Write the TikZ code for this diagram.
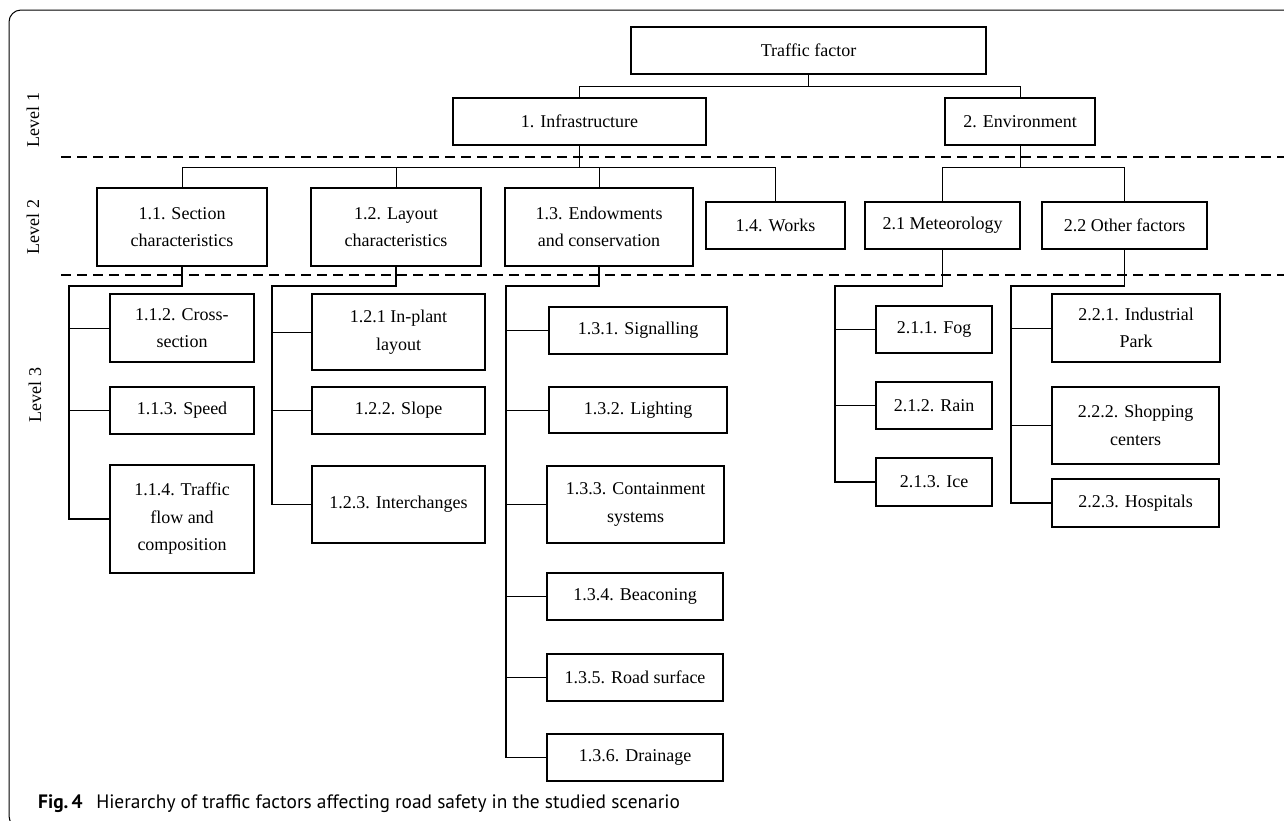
\documentclass[tikz,border=0pt]{standalone}
\usepackage{fontspec}
\setmainfont{Liberation Serif}
\newfontfamily\capfont{PT Sans}
\tikzset{
  box/.style={draw, line width=1.3pt, inner sep=0pt, align=center, font=\fontsize{18}{27.5}\selectfont},
  conn/.style={line width=0.9pt},
  trunk/.style={line width=1.4pt},
  dashline/.style={line width=1.2pt, dash pattern=on 10pt off 6pt},
  lvl/.style={rotate=90, inner sep=0pt, font=\fontsize{18}{22}\selectfont},
  frame/.style={line width=1pt, rounded corners=12pt}
}
\newcommand\bx[6]{\node[box, minimum width={(#4-#2)*1pt}, minimum height={(#5-#3)*1pt}] (#1) at ({(#2+#4)/2},{(#3+#5)/2}) {#6};}
\begin{document}
\begin{tikzpicture}[x=1pt,y=-1pt]
\useasboundingbox (0,0) rectangle (1284,820);
\begin{scope}
\clip (0,0) rectangle (1284,820);
\draw[frame] (9,10) rectangle (1310,828);
\end{scope}
% dashed level separators
\coordinate (d1a) at (61,157); \coordinate (d1b) at (1284,157);
\coordinate (d2a) at (61,275); \coordinate (d2b) at (1284,275);
\draw[dashline] (d1a) -- (d1b);
\draw[dashline] (d2a) -- (d2b);
% level labels
\node[lvl] (l1) at (33,120) {Level 1};
\node[lvl] (l2) at (33,227) {Level 2};
\node[lvl] (l3) at (35,395) {Level 3};
% level 0/1
\bx{tf}{631}{27}{986}{74}{Traffic factor}
\bx{infra}{453}{98}{706}{145}{1. Infrastructure}
\bx{env}{945}{98}{1095}{145}{2. Environment}
% level 2
\bx{s11}{97}{188}{267}{266}{1.1. Section\\characteristics}
\bx{s12}{311}{188}{481}{266}{1.2. Layout\\characteristics}
\bx{s13}{505}{188}{693}{266}{1.3. Endowments\\and conservation}
\bx{s14}{706}{202}{845}{249}{1.4. Works}
\bx{s21}{865}{202}{1020}{249}{2.1 Meteorology}
\bx{s22}{1042}{202}{1207}{249}{2.2 Other factors}
% level 3
\bx{s112}{110}{294}{254}{362}{1.1.2. Cross-\\section}
\bx{s113}{110}{387}{254}{434}{1.1.3. Speed}
\bx{s114}{110}{465}{254}{573}{1.1.4. Traffic\\flow and\\composition}
\bx{s121}{312}{294}{485}{370}{1.2.1 In-plant\\layout}
\bx{s122}{312}{387}{485}{434}{1.2.2. Slope}
\bx{s123}{312}{466}{485}{543}{1.2.3. Interchanges}
\bx{s131}{549}{307}{727}{354}{1.3.1. Signalling}
\bx{s132}{549}{387}{727}{433}{1.3.2. Lighting}
\bx{s133}{547}{466}{724}{543}{1.3.3. Containment\\systems}
\bx{s134}{547}{573}{723}{620}{1.3.4. Beaconing}
\bx{s135}{547}{654}{723}{701}{1.3.5. Road surface}
\bx{s136}{547}{734}{723}{781}{1.3.6. Drainage}
\bx{s211}{876}{306}{992}{353}{2.1.1. Fog}
\bx{s212}{876}{382}{992}{429}{2.1.2. Rain}
\bx{s213}{876}{458}{992}{506}{2.1.3. Ice}
\bx{s221}{1052}{294}{1220}{362}{2.2.1. Industrial\\Park}
\bx{s222}{1052}{387}{1219}{464}{2.2.2. Shopping\\centers}
\bx{s223}{1052}{479}{1219}{527}{2.2.3. Hospitals}
% top connectors
\draw[conn] (tf.south) -- ++(0,12) -| (infra.north);
\draw[conn] (tf.south) -- ++(0,12) -| (env.north);
\foreach \c in {s11,s12,s13,s14} \draw[conn] (infra.south) -- ++(0,22) -| (\c.north);
\foreach \c in {s21,s22} \draw[conn] (env.south) -- ++(0,22) -| (\c.north);
% level 3 trunks
\coordinate (t11) at (69,286);
\coordinate (t12) at (272,286);
\coordinate (t13) at (506,286);
\coordinate (t21) at (835,286);
\coordinate (t22) at (1011,286);
\draw[trunk] (s11.south) |- (t11) |- (s114.west);
\draw[trunk] (s12.south) |- (t12) |- (s123.west);
\draw[trunk] (s13.south) |- (t13) |- (s136.west);
\draw[trunk] (s21.south) |- (t21) |- (s213.west);
\draw[trunk] (s22.south) |- (t22) |- (s223.west);
\foreach \c in {s112,s113} \draw[conn] (t11 |- \c.west) -- (\c.west);
\foreach \c in {s121,s122} \draw[conn] (t12 |- \c.west) -- (\c.west);
\foreach \c in {s131,s132,s133,s134,s135} \draw[conn] (t13 |- \c.west) -- (\c.west);
\foreach \c in {s211,s212} \draw[conn] (t21 |- \c.west) -- (\c.west);
\foreach \c in {s221,s222} \draw[conn] (t22 |- \c.west) -- (\c.west);
% caption
\node[anchor=base west, inner sep=0pt, font=\capfont\fontsize{19.4}{23}\selectfont] (cap) at (38,808) {\textbf{Fig.\,4}\hspace{0.7em}Hierarchy of traffic factors affecting road safety in the studied scenario};
\end{tikzpicture}
\end{document}
